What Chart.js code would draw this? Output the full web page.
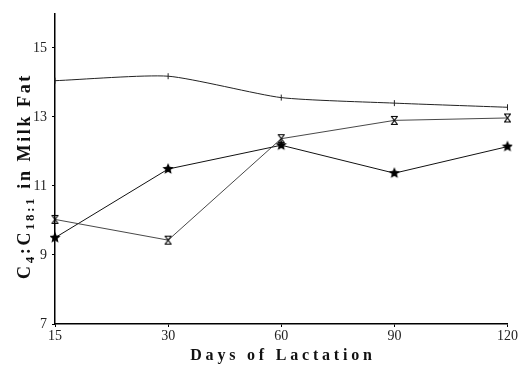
<!DOCTYPE html>
<html>
<head>
<meta charset="utf-8">
<script src="https://cdn.jsdelivr.net/npm/chart.js@4"></script>
<style>
  html, body { margin: 0; padding: 0; background: #fff; }
</style>
</head>
<body>
<canvas id="chart" width="519" height="371"></canvas>
<script>
// data
var days = ['15', '30', '60', '90', '120'];
var topSeries = [14.05, 14.18, 13.56, 13.4, 13.28];
var hourglassSeries = [10.03, 9.43, 12.37, 12.9, 12.97];
var starSeries = [9.5, 11.49, 12.18, 11.37, 12.14];
var yTicks = [7, 9, 11, 13, 15];

var serif = '"Liberation Serif", "DejaVu Serif", serif';

// filled star marker
function makeStar(r) {
    var c = document.createElement('canvas');
    c.width = c.height = r * 2 + 2;
    var ctx = c.getContext('2d');
    ctx.translate(r + 1, r + 1);
    ctx.beginPath();
    for (var i = 0; i < 10; i++) {
        var rad = i % 2 === 0 ? r : r * 0.45;
        var a = -Math.PI / 2 + i * Math.PI / 5;
        ctx.lineTo(Math.cos(a) * rad, Math.sin(a) * rad);
    }
    ctx.closePath();
    ctx.fillStyle = '#000';
    ctx.fill();
    return c;
}

// hourglass marker (X with bars top and bottom)
function makeHourglass(w, h) {
    var c = document.createElement('canvas');
    c.width = w + 2;
    c.height = h + 2;
    var ctx = c.getContext('2d');
    ctx.strokeStyle = '#000';
    ctx.lineWidth = 1.2;
    ctx.beginPath();
    ctx.moveTo(1, 1.5); ctx.lineTo(w + 1, 1.5);
    ctx.moveTo(1, h + 0.5); ctx.lineTo(w + 1, h + 0.5);
    ctx.moveTo(1.5, 1.5); ctx.lineTo(w + 0.5, h + 0.5);
    ctx.moveTo(w + 0.5, 1.5); ctx.lineTo(1.5, h + 0.5);
    ctx.stroke();
    return c;
}

var starImg = makeStar(6);
var hourImg = makeHourglass(7, 9);

// axis titles drawn by hand (subscripts + letter spacing)
var titlePlugin = {
    id: 'titles',
    afterDraw: function(chart) {
        var ctx = chart.ctx;
        ctx.save();
        ctx.fillStyle = '#111';
        ctx.textBaseline = 'alphabetic';

        ctx.font = 'bold 16px ' + serif;
        ctx.letterSpacing = '3.8px';
        ctx.textAlign = 'center';
        ctx.fillText('Days of Lactation', 283, 360);

        var parts = [['C', 0], ['4', 1], [':C', 0], ['18:1', 1], [' in Milk Fat', 0]];
        var big = 'bold 18px ' + serif, small = 'bold 13px ' + serif;
        ctx.letterSpacing = '2.6px';
        var total = 0;
        parts.forEach(function(p) {
            ctx.font = p[1] ? small : big;
            total += ctx.measureText(p[0]).width;
        });
        ctx.translate(30, 176);
        ctx.rotate(-Math.PI / 2);
        ctx.textAlign = 'left';
        var x = -total / 2;
        parts.forEach(function(p) {
            ctx.font = p[1] ? small : big;
            ctx.fillText(p[0], x, p[1] ? 4 : 0);
            x += ctx.measureText(p[0]).width;
        });
        ctx.restore();
    }
};

new Chart(document.getElementById('chart'), {
    type: 'line',
    data: {
        labels: days,
        datasets: [{
            data: topSeries,
            borderColor: '#222',
            borderWidth: 1,
            tension: 0.2,
            pointStyle: 'line',
            rotation: 90,
            pointRadius: 3,
            pointBorderColor: '#222'
        }, {
            data: hourglassSeries,
            borderColor: '#333',
            borderWidth: 0.9,
            tension: 0,
            pointStyle: hourImg
        }, {
            data: starSeries,
            borderColor: '#111',
            borderWidth: 1,
            tension: 0,
            pointStyle: starImg
        }]
    },
    options: {
        responsive: false,
        animation: false,
        layout: { padding: { top: 13, right: 9 } },
        plugins: {
            legend: { display: false },
            tooltip: { enabled: false }
        },
        scales: {
            x: {
                offset: false,
                grid: { drawOnChartArea: false, color: '#000', tickLength: 3 },
                border: { color: '#000', width: 1.5 },
                ticks: { color: '#222', font: { family: serif, size: 14 }, padding: 1, maxRotation: 0 },
                afterFit: function(s) { s.height = 47; }
            },
            y: {
                min: 7,
                max: 16,
                afterBuildTicks: function(s) {
                    s.ticks = yTicks.map(function(v) { return { value: v }; });
                },
                grid: { drawOnChartArea: false, color: '#000', tickLength: 3 },
                border: { color: '#000', width: 1.5 },
                ticks: { color: '#222', font: { family: serif, size: 14 }, padding: 5 },
                afterFit: function(s) { s.width = 55; }
            }
        }
    },
    plugins: [titlePlugin]
});
</script>
</body>
</html>
